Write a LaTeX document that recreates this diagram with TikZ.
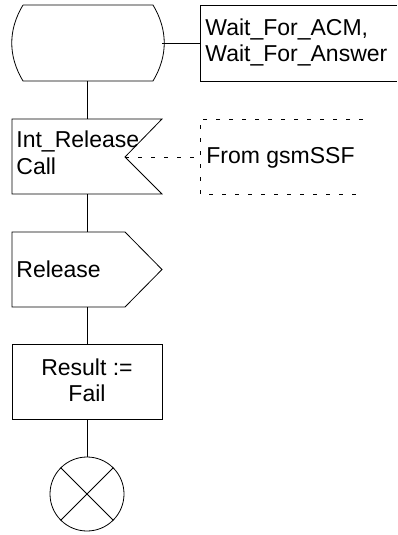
\documentclass[tikz,border=0pt]{standalone}
\usepackage{fontspec}
\setmainfont{Liberation Sans}
\newcommand\diagfont{\fontsize{23}{26}\selectfont}
\begin{document}
\begin{tikzpicture}[x=1pt,y=-1pt,line width=0.8pt,
  lbl/.style={font=\diagfont,inner sep=0pt,anchor=base west},
  clbl/.style={font=\diagfont,inner sep=0pt,anchor=base},
  dashline/.style={dash pattern=on 4pt off 9pt}]
\useasboundingbox (0,0) rectangle (398,535);
% state
\draw (23,5) -- (153,5) .. controls (168,30) and (168,56) .. (153,81) -- (23,81) .. controls (8,56) and (8,30) .. (23,5);
\coordinate (stR) at (162,43);
\coordinate (stB) at (87,81);
% comment box (open to the right)
\draw (397,5) -- (200,5) -- (200,81) -- (397,81);
\coordinate (cbL) at (200,43);
\node[lbl] (w1) at (205,36) {Wait\_For\_ACM,};
\node[lbl] (w2) at (205,62) {Wait\_For\_Answer};
% input
\draw (12,119) -- (162,119) -- (125,157) -- (162,194) -- (12,194) -- cycle;
\coordinate (inT) at (87,119);
\coordinate (inB) at (87,194);
\coordinate (inN) at (125,157);
\node[lbl] (i1) at (16,147) {Int\_Release};
\node[lbl] (i2) at (16,174) {Call};
% dashed comment
\draw[dashline] (363,119) -- (200,119) -- (200,194) -- (363,194);
\coordinate (dbL) at (200,157);
\node[lbl] (f1) at (206,163) {From gsmSSF};
% output
\draw (12,232) -- (125,232) -- (162,269.5) -- (125,307) -- (12,307) -- cycle;
\coordinate (outT) at (87,232);
\coordinate (outB) at (87,307);
\node[lbl] (o1) at (16,277) {Release};
% task
\node[draw,minimum width=150pt,minimum height=75pt,inner sep=0pt] (task) at (87,381.5) {};
\node[clbl] (r1) at (87,375) {Result :=};
\node[clbl] (r2) at (87,401) {Fail};
% stop
\node[draw,circle,minimum size=74pt,inner sep=0pt] (stop) at (87,494) {};
\draw (stop.north west) -- (stop.south east);
\draw (stop.north east) -- (stop.south west);
% connectors
\draw (stR) -- (cbL);
\draw (stB) -- (inT);
\draw[dashline] (inN) -- (dbL);
\draw (inB) -- (outT);
\draw (outB) -- (task.north);
\draw (task.south) -- (stop.north);
\end{tikzpicture}
\end{document}
